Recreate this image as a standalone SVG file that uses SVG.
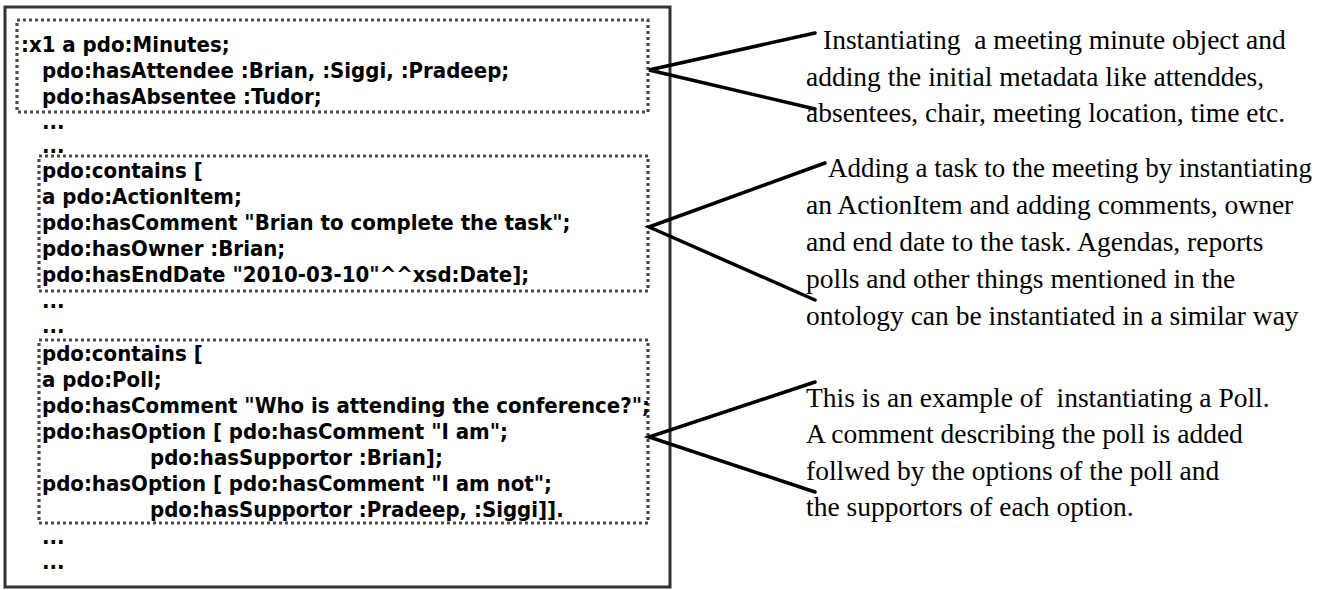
<svg xmlns="http://www.w3.org/2000/svg" width="1320" height="590" viewBox="0 0 1320 590">
<style>
.code{font-family:'DejaVu Sans Condensed','DejaVu Sans',sans-serif;font-stretch:condensed;font-weight:bold;font-size:22px;fill:#000}
.note{font-family:'Liberation Serif','Times New Roman',serif;font-size:27.5px;fill:#000;white-space:pre}
.dot{fill:none;stroke:#4a4a4a;stroke-width:3.2;stroke-dasharray:3 3}
.conn{fill:none;stroke:#000;stroke-width:3.5;stroke-linecap:round;stroke-linejoin:miter}
</style>
<rect width="1320" height="590" fill="#fff"/>
<g id="panel">
<rect x="5" y="7" width="665" height="580" fill="none" stroke="#333" stroke-width="3"/>
</g>
<g id="box1">
<rect class="dot" x="17" y="20" width="631" height="92"/>
<text class="code" x="21" y="52">:x1 a pdo:Minutes;</text>
<text class="code" x="42" y="78">pdo:hasAttendee :Brian, :Siggi, :Pradeep;</text>
<text class="code" x="42" y="104">pdo:hasAbsentee :Tudor;</text>
</g>
<text class="code" x="42" y="129">...</text>
<text class="code" x="42" y="153">...</text>
<g id="box2">
<rect class="dot" x="39" y="156" width="609" height="135"/>
<text class="code" x="42" y="178">pdo:contains [</text>
<text class="code" x="42" y="204">a pdo:ActionItem;</text>
<text class="code" x="42" y="230">pdo:hasComment "Brian to complete the task";</text>
<text class="code" x="42" y="256">pdo:hasOwner :Brian;</text>
<text class="code" x="42" y="282">pdo:hasEndDate "2010-03-10"^^xsd:Date];</text>
</g>
<text class="code" x="42" y="308">...</text>
<text class="code" x="42" y="333">...</text>
<g id="box3">
<rect class="dot" x="39" y="340" width="609" height="183"/>
<text class="code" x="42" y="361">pdo:contains [</text>
<text class="code" x="42" y="387">a pdo:Poll;</text>
<text class="code" x="42" y="413">pdo:hasComment "Who is attending the conference?";</text>
<text class="code" x="42" y="439">pdo:hasOption [ pdo:hasComment "I am";</text>
<text class="code" x="150" y="465">pdo:hasSupportor :Brian];</text>
<text class="code" x="42" y="491">pdo:hasOption [ pdo:hasComment "I am not";</text>
<text class="code" x="150" y="517">pdo:hasSupportor :Pradeep, :Siggi]].</text>
</g>
<text class="code" x="42" y="544">...</text>
<text class="code" x="42" y="569">...</text>
<g id="connectors">
<polyline class="conn" points="815,33 649,70 815,109"/>
<polyline class="conn" points="825,163 649,227 815,300"/>
<polyline class="conn" points="815,382 649,437 815,492"/>
</g>
<g id="note1">
<text class="note" x="823" y="49">Instantiating  a meeting minute object and</text>
<text class="note" x="806" y="86">adding the initial metadata like attenddes,</text>
<text class="note" x="806" y="122">absentees, chair, meeting location, time etc.</text>
</g>
<g id="note2">
<text class="note" x="828" y="177" textLength="484" lengthAdjust="spacingAndGlyphs">Adding a task to the meeting by instantiating</text>
<text class="note" x="806" y="214">an ActionItem and adding comments, owner</text>
<text class="note" x="806" y="251">and end date to the task. Agendas, reports</text>
<text class="note" x="806" y="288">polls and other things mentioned in the</text>
<text class="note" x="806" y="325">ontology can be instantiated in a similar way</text>
</g>
<g id="note3">
<text class="note" x="806" y="407">This is an example of  instantiating a Poll.</text>
<text class="note" x="806" y="443">A comment describing the poll is added</text>
<text class="note" x="806" y="480">follwed by the options of the poll and</text>
<text class="note" x="806" y="516">the supportors of each option.</text>
</g>
</svg>
